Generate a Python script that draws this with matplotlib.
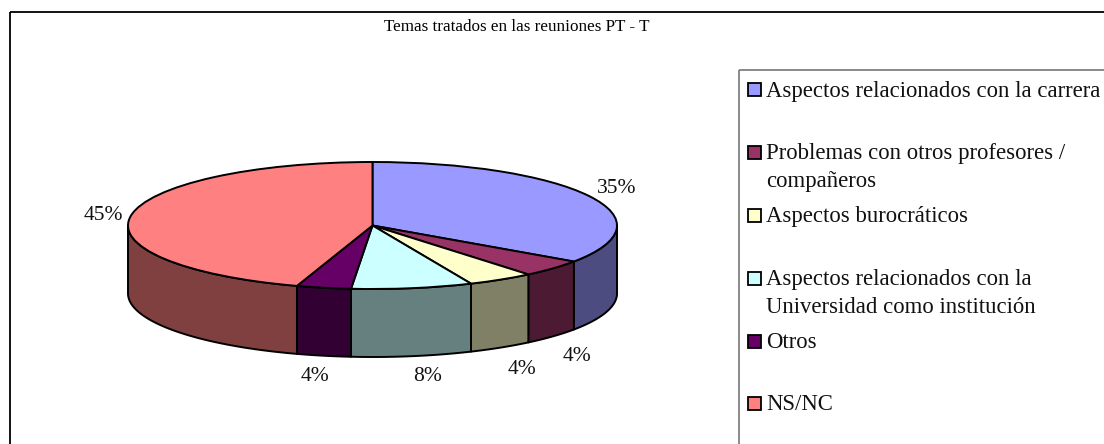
import numpy as np
import matplotlib
matplotlib.use("Agg")
import matplotlib.pyplot as plt
from matplotlib.patches import Rectangle

categories = ["Aspectos relacionados con la carrera",
              "Problemas con otros profesores /\ncompañeros",
              "Aspectos burocráticos",
              "Aspectos relacionados con la\nUniversidad como institución",
              "Otros",
              "NS/NC"]
values = [34.6, 4.4, 4.4, 8.0, 3.6, 45.0]
top_colors = ["#9999FF", "#993366", "#FFFFCC", "#CCFFFF", "#660066", "#FF8080"]
side_colors = ["#4C4C80", "#4D1A33", "#808066", "#668080", "#330033", "#804040"]
title = "Temas tratados en las reuniones PT - T"
label_px = [(617, 188), (577, 356), (522, 369), (428, 376), (315, 376), (103, 215)]
legend_y_px = [90, 152, 215, 278, 341, 403]

W, H = 1104, 444
plt.rcParams["font.family"] = ["Liberation Serif", "DejaVu Serif"]
fig = plt.figure(figsize=(W / 100, H / 100), dpi=100, facecolor="white")

# Full-figure overlay in pixel coordinates for frame, labels, legend
ov = fig.add_axes([0, 0, 1, 1], zorder=2)
ov.set_xlim(0, W); ov.set_ylim(H, 0); ov.axis("off"); ov.patch.set_alpha(0)

# Pie axes: one data unit = rx horizontally, ry vertically
cx, cy, rx, ry, depth = 372.5, 225.5, 244.5, 63.5, 68
ax = fig.add_axes([0, 0, 1, 1], zorder=1)
ax.patch.set_alpha(0)
wedges, _ = ax.pie(values, colors=top_colors, startangle=90, counterclock=False,
                   radius=1, center=(0, 0),
                   wedgeprops=dict(edgecolor="black", linewidth=1.4, zorder=3))
ax.set_aspect("auto")
ax.set_xlim((0 - cx) / rx, (W - cx) / rx)
ax.set_ylim((cy - H) / ry, (cy - 0) / ry)
ax.axis("off")

d = depth / ry
edges = np.cumsum([0] + values) / sum(values) * 2 * np.pi
for i in range(len(values)):
    a0, a1 = edges[i], edges[i + 1]
    lo, hi = max(a0, np.pi / 2), min(a1, 3 * np.pi / 2)
    if lo >= hi:
        continue
    t = np.linspace(lo, hi, 60)
    x, y = np.sin(t), np.cos(t)
    ax.fill(np.r_[x, x[::-1]], np.r_[y, y[::-1] - d], facecolor=side_colors[i],
            edgecolor="black", linewidth=1.4, zorder=2, joinstyle="round")

# Frames (open to the right and bottom, as cropped in the reference)
ov.add_patch(Rectangle((9.5, 12.5), W + 20, H + 20, fill=False, ec="black", lw=1.3))
ov.add_patch(Rectangle((739, 70), W, H, fill=False, ec="#777777", lw=1.2))

ov.text(517, 27, title, ha="center", va="center", fontsize=12.3, color="black")
for (x, y), v in zip(label_px, values):
    ov.text(x, y, f"{round(v)}%", ha="center", va="center", fontsize=15.5, color="#111111")

for yc, name, col in zip(legend_y_px, categories, top_colors):
    ov.add_patch(Rectangle((747.5, yc - 6.5), 13, 13, fc=col, ec="black", lw=1.3))
    for k, line in enumerate(name.split("\n")):
        ov.text(766.5, yc + 1.5 + k * 28, line, ha="left", va="center", fontsize=16.35, color="#111111")

fig.savefig("out.png", dpi=100)
